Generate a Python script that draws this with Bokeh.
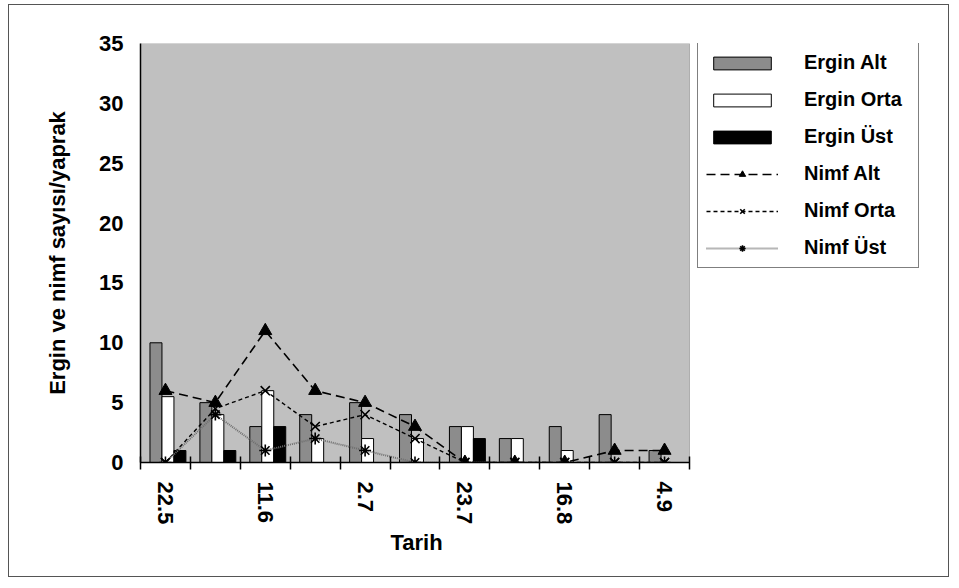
from bokeh.plotting import figure
from bokeh.models import (ColumnDataSource, FixedTicker, Legend, LegendItem, Range1d,
                          BoxAnnotation, Title)
from bokeh.transform import dodge
from bokeh.embed import file_html
from bokeh.resources import INLINE

# ---- data ----
tarih_labels = ["22.5", "11.6", "2.7", "23.7", "16.8", "4.9"]   # shown on every other sampling date
n_dates = 11
ergin_alt = [10, 5, 3, 4, 5, 4, 3, 2, 3, 4, 1]
ergin_orta = [5.5, 4, 6, 2, 2, 2, 3, 2, 1, 0, 0]
ergin_ust = [1, 1, 3, 0, 0, 0, 2, 0, 0, 0, 0]
nimf_alt = [6, 5, 11, 6, 5, 3, 0, 0, 0, 1, 1]
nimf_orta = [0, 4.5, 6, 3, 4, 2, 0, 0, 0, 0, 0]
nimf_ust = [0, 4, 1, 2, 1, 0, 0, 0, 0, 0, 0]
y_ticks = [0, 5, 10, 15, 20, 25, 30, 35]
y_max = 35

idx = list(range(n_dates))
src = ColumnDataSource(dict(x=idx, ea=ergin_alt, eo=ergin_orta, eu=ergin_ust,
                            na=nimf_alt, no=nimf_orta, nu=nimf_ust))

FONT = "Liberation Sans"

# layout: figure 941x573, plot area 549 px wide for the data, legend to its right
W, H = 941, 573
B_LEFT, B_RIGHT, B_TOP, B_BOTTOM = 131, 20, 38, 116
frame_w = W - B_LEFT - B_RIGHT
data_w = 549
x0 = -0.5
x_end = x0 + n_dates * frame_w / data_w

p = figure(width=W, height=H, output_backend="svg", toolbar_location=None,
           x_range=Range1d(x0, x_end), y_range=Range1d(0, y_max),
           min_border_left=B_LEFT, min_border_right=B_RIGHT, min_border_top=B_TOP,
           min_border_bottom=B_BOTTOM)
p.styles = {"margin-left": "8px", "margin-top": "4px", "border": "1px solid #555555"}
p.background_fill_color = "white"
p.border_fill_color = "white"
p.outline_line_color = None
p.grid.visible = False

# grey plot area behind the data
p.add_layout(BoxAnnotation(left=x0, right=x0 + n_dates, bottom=0, top=y_max,
                           fill_color="#c0c0c0", fill_alpha=1, line_color="#404040",
                           line_width=1, level="underlay"))

bw = 0.24
r_ea = p.vbar(x=dodge("x", -0.19, range=p.x_range), top="ea", width=bw, source=src,
              fill_color="#8c8c8c", line_color="black", line_width=1)
r_eo = p.vbar(x=dodge("x", 0.05, range=p.x_range), top="eo", width=bw, source=src,
              fill_color="white", line_color="black", line_width=1)
r_eu = p.vbar(x=dodge("x", 0.29, range=p.x_range), top="eu", width=bw, source=src,
              fill_color="black", line_color="black", line_width=1)

l_na = p.line("x", "na", source=src, line_color="black", line_width=1.6, line_dash="9 5")
s_na = p.scatter("x", "na", source=src, marker="triangle", size=13,
                 fill_color="black", line_color="black")
l_no = p.line("x", "no", source=src, line_color="black", line_width=1.4, line_dash="4 3")
s_no = p.scatter("x", "no", source=src, marker="x", size=13, line_color="black",
                 line_width=1.6)
l_nu = p.line("x", "nu", source=src, line_color="#6e6e6e", line_width=2, line_dash="1 1")
s_nu = p.scatter("x", "nu", source=src, marker="asterisk", size=12, line_color="black",
                 line_width=1.6)

# x axis: labels on every other date, ticks between categories
label_pos = idx[::2]
p.xaxis.bounds = (x0, x0 + n_dates)
p.xaxis.ticker = FixedTicker(ticks=label_pos, minor_ticks=[i - 0.5 for i in range(n_dates + 1)])
p.xaxis.major_label_overrides = {pos: lab for pos, lab in zip(label_pos, tarih_labels)}
p.xaxis.major_tick_out = 0
p.xaxis.major_tick_in = 0
p.xaxis.minor_tick_line_color = "black"
p.xaxis.minor_tick_line_width = 1.5
p.xaxis.minor_tick_in = 6
p.xaxis.minor_tick_out = 7
p.xaxis.major_label_orientation = "vertical"
p.xaxis.major_label_standoff = 12

p.yaxis.ticker = FixedTicker(ticks=y_ticks)
p.yaxis.minor_tick_line_color = None
p.yaxis.major_tick_in = 7
p.yaxis.major_tick_out = 7
p.yaxis.major_tick_line_width = 1.5
p.yaxis.major_label_standoff = 10
p.yaxis.axis_label = "Ergin ve nimf sayısı/yaprak"
p.yaxis.axis_label_standoff = 26

for ax in (p.xaxis, p.yaxis):
    ax.axis_line_color = "black"
    ax.axis_line_width = 1.5
    ax.major_tick_line_color = "black" if ax is p.yaxis else None
    ax.major_label_text_font = FONT
    ax.major_label_text_font_style = "bold"
    ax.major_label_text_font_size = "22px"
    ax.major_label_text_color = "black"
    ax.axis_label_text_font = FONT
    ax.axis_label_text_font_style = "bold"
    ax.axis_label_text_font_size = "22px"
    ax.axis_label_text_color = "black"

# x-axis title, centred under the data area
p.add_layout(Title(text="Tarih", align="left", offset=250, text_font=FONT,
                   text_font_style="bold", text_font_size="22px", text_color="black",
                   standoff=0), "below")

legend = Legend(items=[
    LegendItem(label="Ergin Alt", renderers=[r_ea]),
    LegendItem(label="Ergin Orta", renderers=[r_eo]),
    LegendItem(label="Ergin Üst", renderers=[r_eu]),
    LegendItem(label="Nimf Alt", renderers=[l_na, s_na]),
    LegendItem(label="Nimf Orta", renderers=[l_no, s_no]),
    LegendItem(label="Nimf Üst", renderers=[l_nu, s_nu]),
], location=(data_w + 8, 194), glyph_width=72, glyph_height=16, label_height=16, spacing=14,
   padding=8, label_standoff=26, label_width=106, margin=0, border_line_color="black",
   border_line_width=1.2, background_fill_color="white", background_fill_alpha=1,
   label_text_font=FONT, label_text_font_style="bold", label_text_font_size="20px",
   label_text_color="black")
p.add_layout(legend, "center")

open("out.html", "w").write(file_html(p, INLINE))
